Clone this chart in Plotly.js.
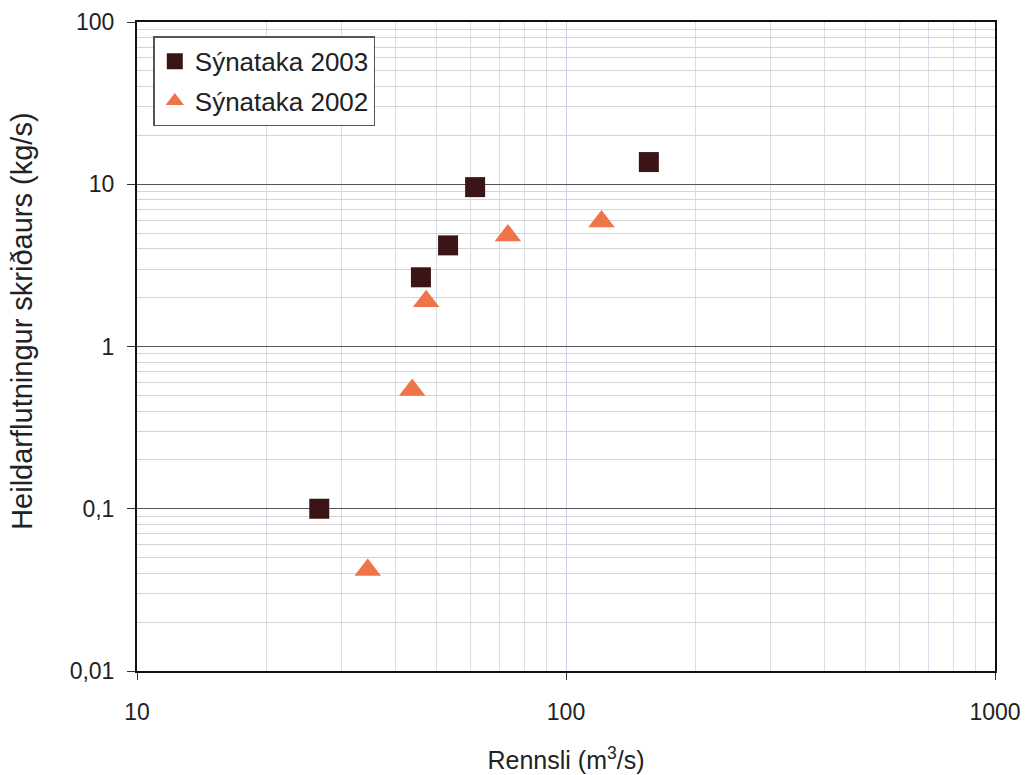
<!DOCTYPE html>
<html>
<head>
<meta charset="utf-8">
<script src="https://cdn.plot.ly/plotly-3.0.1.min.js"></script>
<style>html,body{margin:0;padding:0;background:#fff;}#chart{width:1028px;height:775px;}</style>
</head>
<body>
<div id="chart"></div>
<script>
// Data
var flow2003 = [26.6, 45.9, 53.1, 61.4, 156];
var load2003 = [0.1, 2.67, 4.2, 9.6, 13.7];
var flow2002 = [34.5, 43.8, 47.2, 73.2, 121];
var load2002 = [0.042, 0.54, 1.9, 4.84, 5.9];
var yTickVals = [0.01, 0.1, 1, 10, 100];
var yTickText = ["0,01", "0,1", "1", "10", "100"];
var xTickVals = [10, 100, 1000];
var xTickText = ["10", "100", "1000"];
var yTitle = "Heildarflutningur skriðaurs (kg/s)";
var xTitle = "Rennsli (m<sup>3</sup>/s)";

function minorVals(lo, hi) {
  var out = [];
  for (var d = lo; d < hi; d *= 10) {
    for (var k = 2; k <= 9; k++) out.push(k * d);
  }
  return out;
}

var font = "'Liberation Sans', Arial, sans-serif";
var traces = [
  {x: flow2003, y: load2003, type: "scatter", mode: "markers", name: "Sýnataka 2003", legendgroup: "a",
   marker: {symbol: "square", size: 20, color: "#3b1515", line: {width: 0}}},
  {x: flow2002, y: load2002, type: "scatter", mode: "markers", name: "Sýnataka 2002", legendgroup: "b",
   marker: {symbol: "triangle-up", size: 23, color: "#ef7548", line: {width: 0}}}
];

var layout = {
  width: 1028, height: 775,
  margin: {l: 137, r: 33, t: 22, b: 104},
  paper_bgcolor: "#fff", plot_bgcolor: "#fff",
  showlegend: true,
  legend: {x: 0.019, y: 0.978, xanchor: "left", yanchor: "top",
    bgcolor: "#fff", bordercolor: "#555", borderwidth: 1.5,
    font: {family: font, size: 26, color: "#222"}, itemsizing: "trace",
    tracegroupgap: 3, itemwidth: 30},
  xaxis: {type: "log", range: [1, 3], tickvals: xTickVals, ticktext: xTickText,
    showgrid: true, gridcolor: "#c9d3e3", gridwidth: 1,
    minor: {tickvals: minorVals(10, 1000), showgrid: true, gridcolor: "#d8dfea", gridwidth: 1, ticks: ""},
    showline: true, linecolor: "#111", linewidth: 2, mirror: true,
    ticks: "outside", ticklen: 7, tickcolor: "#333", zeroline: false,
    ticklabelstandoff: 12,
    tickfont: {family: font, size: 23, color: "#222"},
    title: {text: xTitle, font: {family: font, size: 25, color: "#222"}, standoff: 28}},
  yaxis: {type: "log", range: [-2, 2], tickvals: yTickVals, ticktext: yTickText,
    showgrid: true, gridcolor: "#555", gridwidth: 1,
    minor: {tickvals: minorVals(0.01, 100), showgrid: true, gridcolor: "#d4d4d8", gridwidth: 1, ticks: ""},
    showline: true, linecolor: "#111", linewidth: 2, mirror: true,
    ticks: "outside", ticklen: 8, tickcolor: "#333", zeroline: false,
    ticklabelstandoff: 8,
    tickfont: {family: font, size: 23, color: "#222"}},
  annotations: [{text: yTitle, xref: "paper", yref: "paper", x: -0.134, y: 0.538,
    xanchor: "center", yanchor: "middle", textangle: -90, showarrow: false,
    font: {family: font, size: 29, color: "#222"}}]
};

Plotly.newPlot("chart", traces, layout, {displayModeBar: false, staticPlot: true});
</script>
</body>
</html>
